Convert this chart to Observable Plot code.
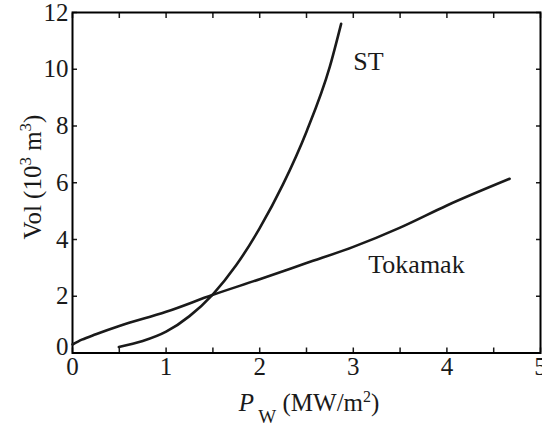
<!DOCTYPE html>
<html><head>
<meta charset="utf-8">
<script src="https://cdn.jsdelivr.net/npm/d3@7"></script>
<script src="https://cdn.jsdelivr.net/npm/@observablehq/plot@0.6"></script>
<style>body{margin:0;background:#fff}</style>
</head><body><div id="chart"></div>
<script>
// Tokamak curve
const tokX = [0.0, 0.1, 0.25, 0.5, 1.0, 1.5, 2.0, 2.5, 3.0, 3.5, 4.0, 4.67];
const tokY = [0.30, 0.47, 0.66, 0.95, 1.45, 2.05, 2.6, 3.17, 3.74, 4.42, 5.2, 6.14];
// ST curve
const stX = [0.495, 0.75, 1.0, 1.25, 1.5, 1.75, 2.0, 2.25, 2.5, 2.75, 2.87];
const stY = [0.21, 0.42, 0.75, 1.3, 2.07, 3.1, 4.4, 5.95, 7.8, 10.1, 11.6];
// ticks
const xTicks = [0, 0.5, 1, 1.5, 2, 2.5, 3, 3.5, 4, 4.5, 5];
const xTickLabels = [0, 1, 2, 3, 4, 5];
const yTicks = [0, 2, 4, 6, 8, 10, 12];
const yTickLabelsUpper = [2, 4, 6, 8, 10, 12];
const yTickLabelZero = [0];
// curve annotations
const annText = ["ST", "Tokamak"];
const annX = [3.0, 3.16];
const annY = [10.25, 3.12];

const tok = tokX.map((x, i) => ({x, y: tokY[i]}));
const st = stX.map((x, i) => ({x, y: stY[i]}));
const ann = annText.map((t, i) => ({t, x: annX[i], y: annY[i]}));

const ink = "#1a1a1a";
const font = "'Liberation Serif', 'Times New Roman', serif";
const fmt = d => String(d);

const chart = Plot.plot({
  width: 542,
  height: 426,
  marginLeft: 72,
  marginRight: 2,
  marginTop: 12,
  marginBottom: 73.5,
  style: {fontFamily: font, fontSize: "25px", color: ink, background: "#fff"},
  x: {domain: [0, 5]},
  y: {domain: [0, 12]},
  marks: [
    Plot.axisX({ticks: xTicks, tickSize: -5, tickFormat: () => "", label: null, anchor: "bottom", strokeWidth: 1.5}),
    Plot.axisX({ticks: xTicks, tickSize: -5, tickFormat: () => "", label: null, anchor: "top", strokeWidth: 1.5}),
    Plot.axisY({ticks: yTicks, tickSize: -5, tickFormat: () => "", label: null, anchor: "left", strokeWidth: 1.5}),
    Plot.axisY({ticks: yTicks, tickSize: -5, tickFormat: () => "", label: null, anchor: "right", strokeWidth: 1.5}),
    Plot.axisX({ticks: xTickLabels, tickFormat: fmt, tickSize: 0, tickPadding: 4, label: null, anchor: "bottom", fontSize: 25, fontFamily: font, fill: ink}),
    Plot.axisY({ticks: yTickLabelsUpper, tickFormat: fmt, tickSize: 0, tickPadding: 4, label: null, anchor: "left", fontSize: 25, fontFamily: font, fill: ink}),
    Plot.axisY({ticks: yTickLabelZero, tickFormat: fmt, tickSize: 0, tickPadding: 4, label: null, anchor: "left", fontSize: 25, fontFamily: font, fill: ink, dy: -6}),
    Plot.frame({stroke: "#000", strokeWidth: 2}),
    Plot.line(tok, {x: "x", y: "y", curve: "monotone-x", stroke: ink, strokeWidth: 2.6}),
    Plot.line(st, {x: "x", y: "y", curve: "monotone-x", stroke: ink, strokeWidth: 2.6}),
    Plot.text(ann, {x: "x", y: "y", text: "t", textAnchor: "start", fontSize: 26, fontFamily: font, fill: ink})
  ]
});

const svg = d3.select(chart);
svg.style("font-family", font);
svg.selectAll("text").style("font-family", font);
// x-axis label
const xl = svg.append("text")
  .attr("x", 309).attr("y", 411)
  .attr("text-anchor", "middle")
  .attr("fill", ink)
  .style("font-family", font).style("font-size", "25px");
xl.append("tspan").attr("font-style", "italic").text("P");
xl.append("tspan").attr("font-size", "19px").attr("dy", 12).text(" W");
xl.append("tspan").attr("dy", -12).text(" (MW/m");
xl.append("tspan").attr("font-size", "16px").attr("dy", -9).text("2");
xl.append("tspan").attr("dy", 9).text(")");
// y-axis label
const yl = svg.append("text")
  .attr("transform", "translate(41,177) rotate(-90)")
  .attr("text-anchor", "middle")
  .attr("fill", ink)
  .style("font-family", font).style("font-size", "25px");
yl.append("tspan").text("Vol (10");
yl.append("tspan").attr("font-size", "17px").attr("dy", -10).text("3");
yl.append("tspan").attr("dy", 10).text(" m");
yl.append("tspan").attr("font-size", "17px").attr("dy", -10).text("3");
yl.append("tspan").attr("dy", 10).text(")");

document.getElementById("chart").appendChild(chart);
</script>
</body></html>
